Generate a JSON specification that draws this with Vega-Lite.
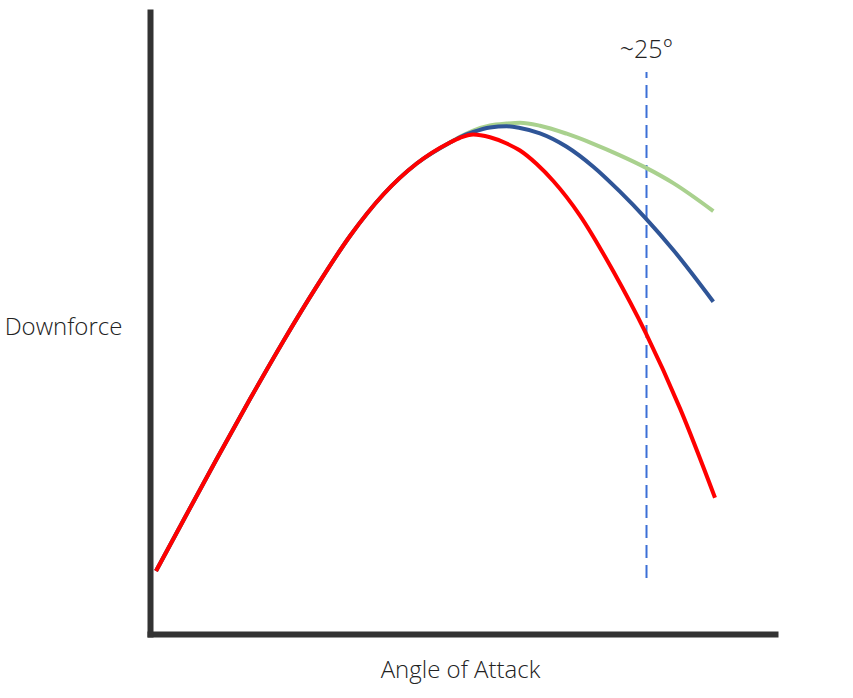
{
  "$schema": "https://vega.github.io/schema/vega-lite/v6.json",
  "width": 625,
  "height": 622,
  "autosize": "none",
  "padding": {"left": 150, "top": 12, "right": 78, "bottom": 64},
  "background": "white",
  "config": {"view": {"stroke": null}},
  "datasets": {
    "curves": [
      {"curve": "green", "angle": 0.302, "downforce": 10.13},
      {"curve": "green", "angle": 1.677, "downforce": 18.25},
      {"curve": "green", "angle": 3.358, "downforce": 28.14},
      {"curve": "green", "angle": 5.035, "downforce": 37.77},
      {"curve": "green", "angle": 6.712, "downforce": 47.07},
      {"curve": "green", "angle": 8.394, "downforce": 55.88},
      {"curve": "green", "angle": 10.07, "downforce": 63.99},
      {"curve": "green", "angle": 11.747, "downforce": 70.66},
      {"curve": "green", "angle": 13.429, "downforce": 75.64},
      {"curve": "green", "angle": 15.106, "downforce": 79.02},
      {"curve": "green", "angle": 15.609, "downforce": 79.94},
      {"curve": "green", "angle": 16.279, "downforce": 80.95},
      {"curve": "green", "angle": 17.12, "downforce": 81.75},
      {"curve": "green", "angle": 17.961, "downforce": 82.07},
      {"curve": "green", "angle": 18.63, "downforce": 82.2},
      {"curve": "green", "angle": 19.637, "downforce": 81.72},
      {"curve": "green", "angle": 20.982, "downforce": 80.43},
      {"curve": "green", "angle": 22.321, "downforce": 78.81},
      {"curve": "green", "angle": 23.666, "downforce": 76.96},
      {"curve": "green", "angle": 24.96, "downforce": 74.98},
      {"curve": "green", "angle": 26.349, "downforce": 72.49},
      {"curve": "green", "angle": 28.364, "downforce": 67.99},
      {"curve": "blue", "angle": 0.302, "downforce": 10.13},
      {"curve": "blue", "angle": 1.677, "downforce": 18.25},
      {"curve": "blue", "angle": 3.358, "downforce": 28.14},
      {"curve": "blue", "angle": 5.035, "downforce": 37.77},
      {"curve": "blue", "angle": 6.712, "downforce": 47.07},
      {"curve": "blue", "angle": 8.394, "downforce": 55.88},
      {"curve": "blue", "angle": 10.07, "downforce": 63.99},
      {"curve": "blue", "angle": 11.747, "downforce": 70.66},
      {"curve": "blue", "angle": 13.429, "downforce": 75.64},
      {"curve": "blue", "angle": 15.106, "downforce": 79.02},
      {"curve": "blue", "angle": 15.609, "downforce": 79.87},
      {"curve": "blue", "angle": 16.279, "downforce": 80.71},
      {"curve": "blue", "angle": 17.12, "downforce": 81.43},
      {"curve": "blue", "angle": 17.961, "downforce": 81.62},
      {"curve": "blue", "angle": 18.63, "downforce": 81.35},
      {"curve": "blue", "angle": 19.637, "downforce": 80.5},
      {"curve": "blue", "angle": 20.982, "downforce": 78.34},
      {"curve": "blue", "angle": 22.321, "downforce": 75.13},
      {"curve": "blue", "angle": 23.666, "downforce": 71.11},
      {"curve": "blue", "angle": 24.96, "downforce": 66.83},
      {"curve": "blue", "angle": 26.349, "downforce": 61.74},
      {"curve": "blue", "angle": 28.364, "downforce": 53.42},
      {"curve": "red", "angle": 0.302, "downforce": 10.13},
      {"curve": "red", "angle": 1.677, "downforce": 18.25},
      {"curve": "red", "angle": 3.358, "downforce": 28.14},
      {"curve": "red", "angle": 5.035, "downforce": 37.77},
      {"curve": "red", "angle": 6.712, "downforce": 47.07},
      {"curve": "red", "angle": 8.394, "downforce": 55.88},
      {"curve": "red", "angle": 10.07, "downforce": 63.99},
      {"curve": "red", "angle": 11.747, "downforce": 70.66},
      {"curve": "red", "angle": 13.429, "downforce": 75.64},
      {"curve": "red", "angle": 15.106, "downforce": 79.02},
      {"curve": "red", "angle": 15.609, "downforce": 79.77},
      {"curve": "red", "angle": 16.279, "downforce": 80.31},
      {"curve": "red", "angle": 17.12, "downforce": 79.86},
      {"curve": "red", "angle": 17.961, "downforce": 78.86},
      {"curve": "red", "angle": 18.63, "downforce": 77.73},
      {"curve": "red", "angle": 19.471, "downforce": 75.56},
      {"curve": "red", "angle": 20.307, "downforce": 72.83},
      {"curve": "red", "angle": 21.652, "downforce": 67.28},
      {"curve": "red", "angle": 23.328, "downforce": 58.31},
      {"curve": "red", "angle": 24.96, "downforce": 48.41},
      {"curve": "red", "angle": 26.687, "downforce": 36.27},
      {"curve": "red", "angle": 28.449, "downforce": 21.91}
    ],
    "marker": [
      {"angle": 25, "top": 90.35, "bottom": 9.0, "label": "~25°", "labelY": 93.9}
    ]
  },
  "encoding": {
    "x": {
      "field": "angle",
      "type": "quantitative",
      "scale": {"domain": [0, 31.47], "nice": false, "zero": false},
      "axis": {
        "title": "Angle of Attack",
        "ticks": false,
        "labels": false,
        "grid": false,
        "domainColor": "#333333",
        "domainWidth": 6,
        "domainCap": "square",
        "titleFont": "Open Sans",
        "titleFontWeight": 300,
        "titleFontSize": 24,
        "titleColor": "#222222",
        "titleAnchor": null,
        "titleAlign": "center",
        "titleBaseline": "middle",
        "titleX": 310,
        "titleY": 36
      }
    },
    "y": {
      "field": "downforce",
      "type": "quantitative",
      "scale": {"domain": [0, 100], "nice": false, "zero": false},
      "axis": {
        "title": "Downforce",
        "ticks": false,
        "labels": false,
        "grid": false,
        "domainColor": "#333333",
        "domainWidth": 6,
        "domainCap": "square",
        "titleAngle": 0,
        "titleFont": "Open Sans",
        "titleFontWeight": 300,
        "titleFontSize": 24,
        "titleColor": "#222222",
        "titleAnchor": null,
        "titleAlign": "center",
        "titleBaseline": "middle",
        "titleX": -87,
        "titleY": 315
      }
    }
  },
  "layer": [
    {
      "data": {"name": "marker"},
      "mark": {"type": "rule", "color": "#3b6fd6", "strokeWidth": 2, "strokeDash": [13, 7]},
      "encoding": {
        "y": {"field": "bottom", "type": "quantitative"},
        "y2": {"field": "top"}
      }
    },
    {
      "data": {"name": "marker"},
      "mark": {"type": "text", "font": "Open Sans", "fontWeight": 300, "fontSize": 25, "color": "#222222", "align": "center", "baseline": "middle"},
      "encoding": {
        "y": {"field": "labelY", "type": "quantitative"},
        "text": {"field": "label"}
      }
    },
    {
      "data": {"name": "curves"},
      "transform": [{"filter": "datum.curve === 'green'"}],
      "mark": {"type": "line", "color": "#a9d18e", "strokeWidth": 4, "interpolate": "monotone"}
    },
    {
      "data": {"name": "curves"},
      "transform": [{"filter": "datum.curve === 'blue'"}],
      "mark": {"type": "line", "color": "#2f5597", "strokeWidth": 4, "interpolate": "monotone"}
    },
    {
      "data": {"name": "curves"},
      "transform": [{"filter": "datum.curve === 'red'"}],
      "mark": {"type": "line", "color": "#ff0000", "strokeWidth": 4, "interpolate": "monotone"}
    }
  ]
}
